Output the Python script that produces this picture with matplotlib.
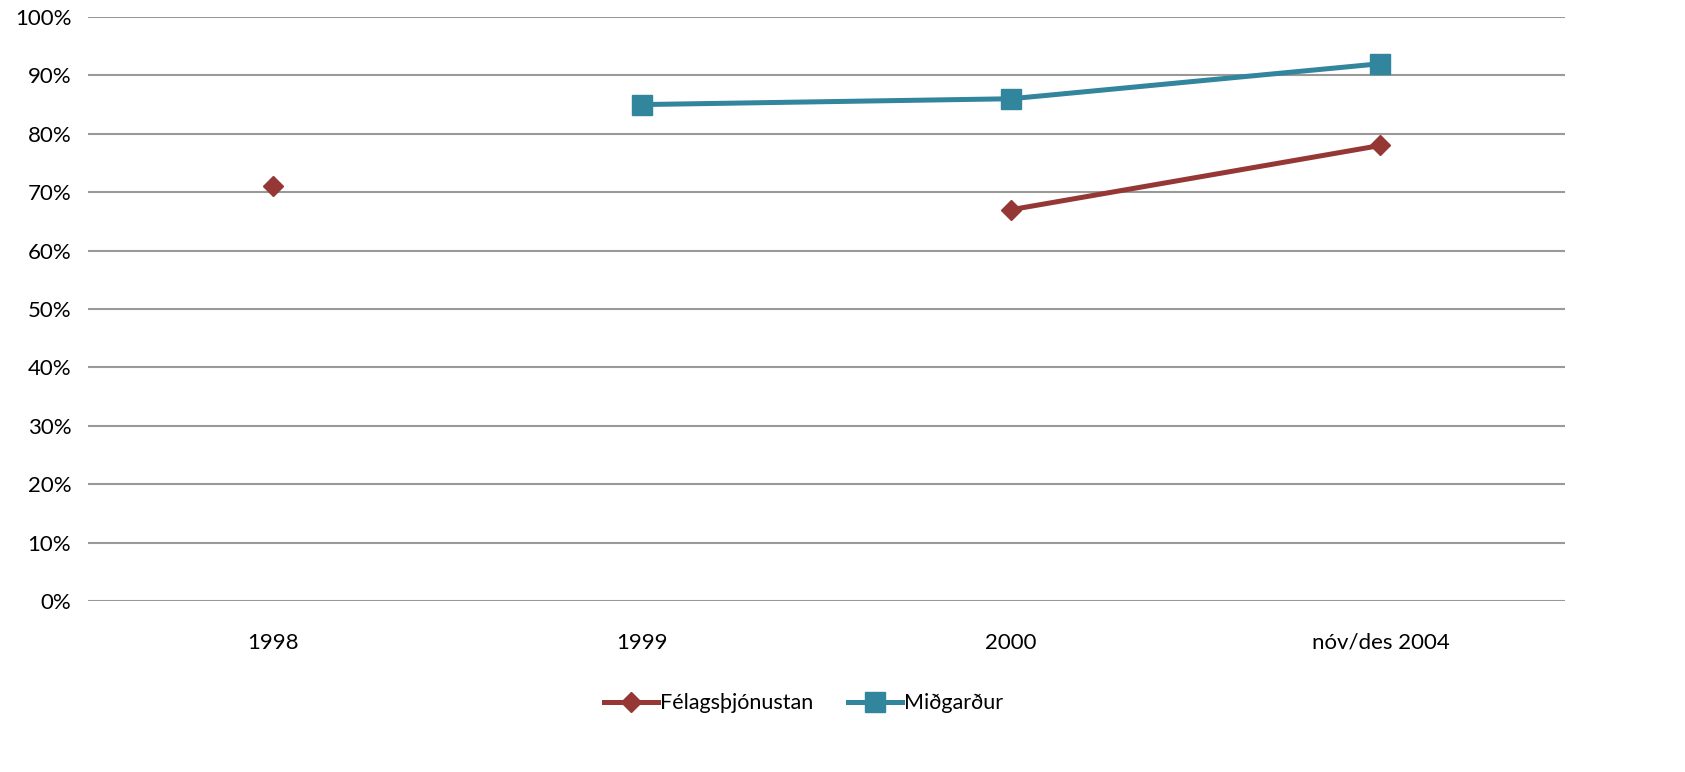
"""Félagsþjónustan vs Miðgarður share by survey period, Excel-style line chart."""
import matplotlib
matplotlib.use("Agg")
import matplotlib.pyplot as plt
import numpy as np
from matplotlib.ticker import FuncFormatter, MultipleLocator

CATEGORIES = ["1998", "1999", "2000", "nóv/des 2004"]
FELAGS = [0.71, np.nan, 0.67, 0.78]
MIDGARDUR = [np.nan, 0.85, 0.86, 0.92]

RED = "#953735"
TEAL = "#31859C"
GRID = "#999999"

plt.rcParams.update({
    "font.family": ["Lato", "DejaVu Sans"],
    "font.size": 15,
})

fig = plt.figure(figsize=(16.85, 7.72), dpi=100)
ax = fig.add_axes([0.0522, 0.2215, 0.8766, 0.7565])

x = np.arange(len(CATEGORIES))
ax.plot(x, FELAGS, "-D", color=RED, linewidth=3.6, markersize=10.5,
        label="Félagsþjónustan")
ax.plot(x, MIDGARDUR, "-s", color=TEAL, linewidth=3.6, markersize=14,
        label="Miðgarður")

ax.set_xlim(-0.5, len(CATEGORIES) - 0.5)
ax.set_ylim(0, 1)
ax.yaxis.set_major_locator(MultipleLocator(0.1))
ax.yaxis.set_major_formatter(FuncFormatter(lambda v, _: f"{v * 100:.0f}%"))
ax.set_xticks(x)
ax.set_xticklabels(CATEGORIES)

ax.grid(axis="y", color=GRID, linewidth=1.5)
ax.set_axisbelow(True)
for s in ("top", "right", "left", "bottom"):
    ax.spines[s].set_visible(False)
ax.tick_params(axis="both", length=0, labelsize=16, colors="black")
ax.tick_params(axis="y", pad=12)
ax.tick_params(axis="x", pad=23)

fig.legend(loc="center", bbox_to_anchor=(0.477, 0.089), ncol=2, frameon=False,
           fontsize=15.5, handlelength=2.5, columnspacing=1.6, handletextpad=0.1)

fig.savefig("out.png", dpi=100, facecolor="white")
